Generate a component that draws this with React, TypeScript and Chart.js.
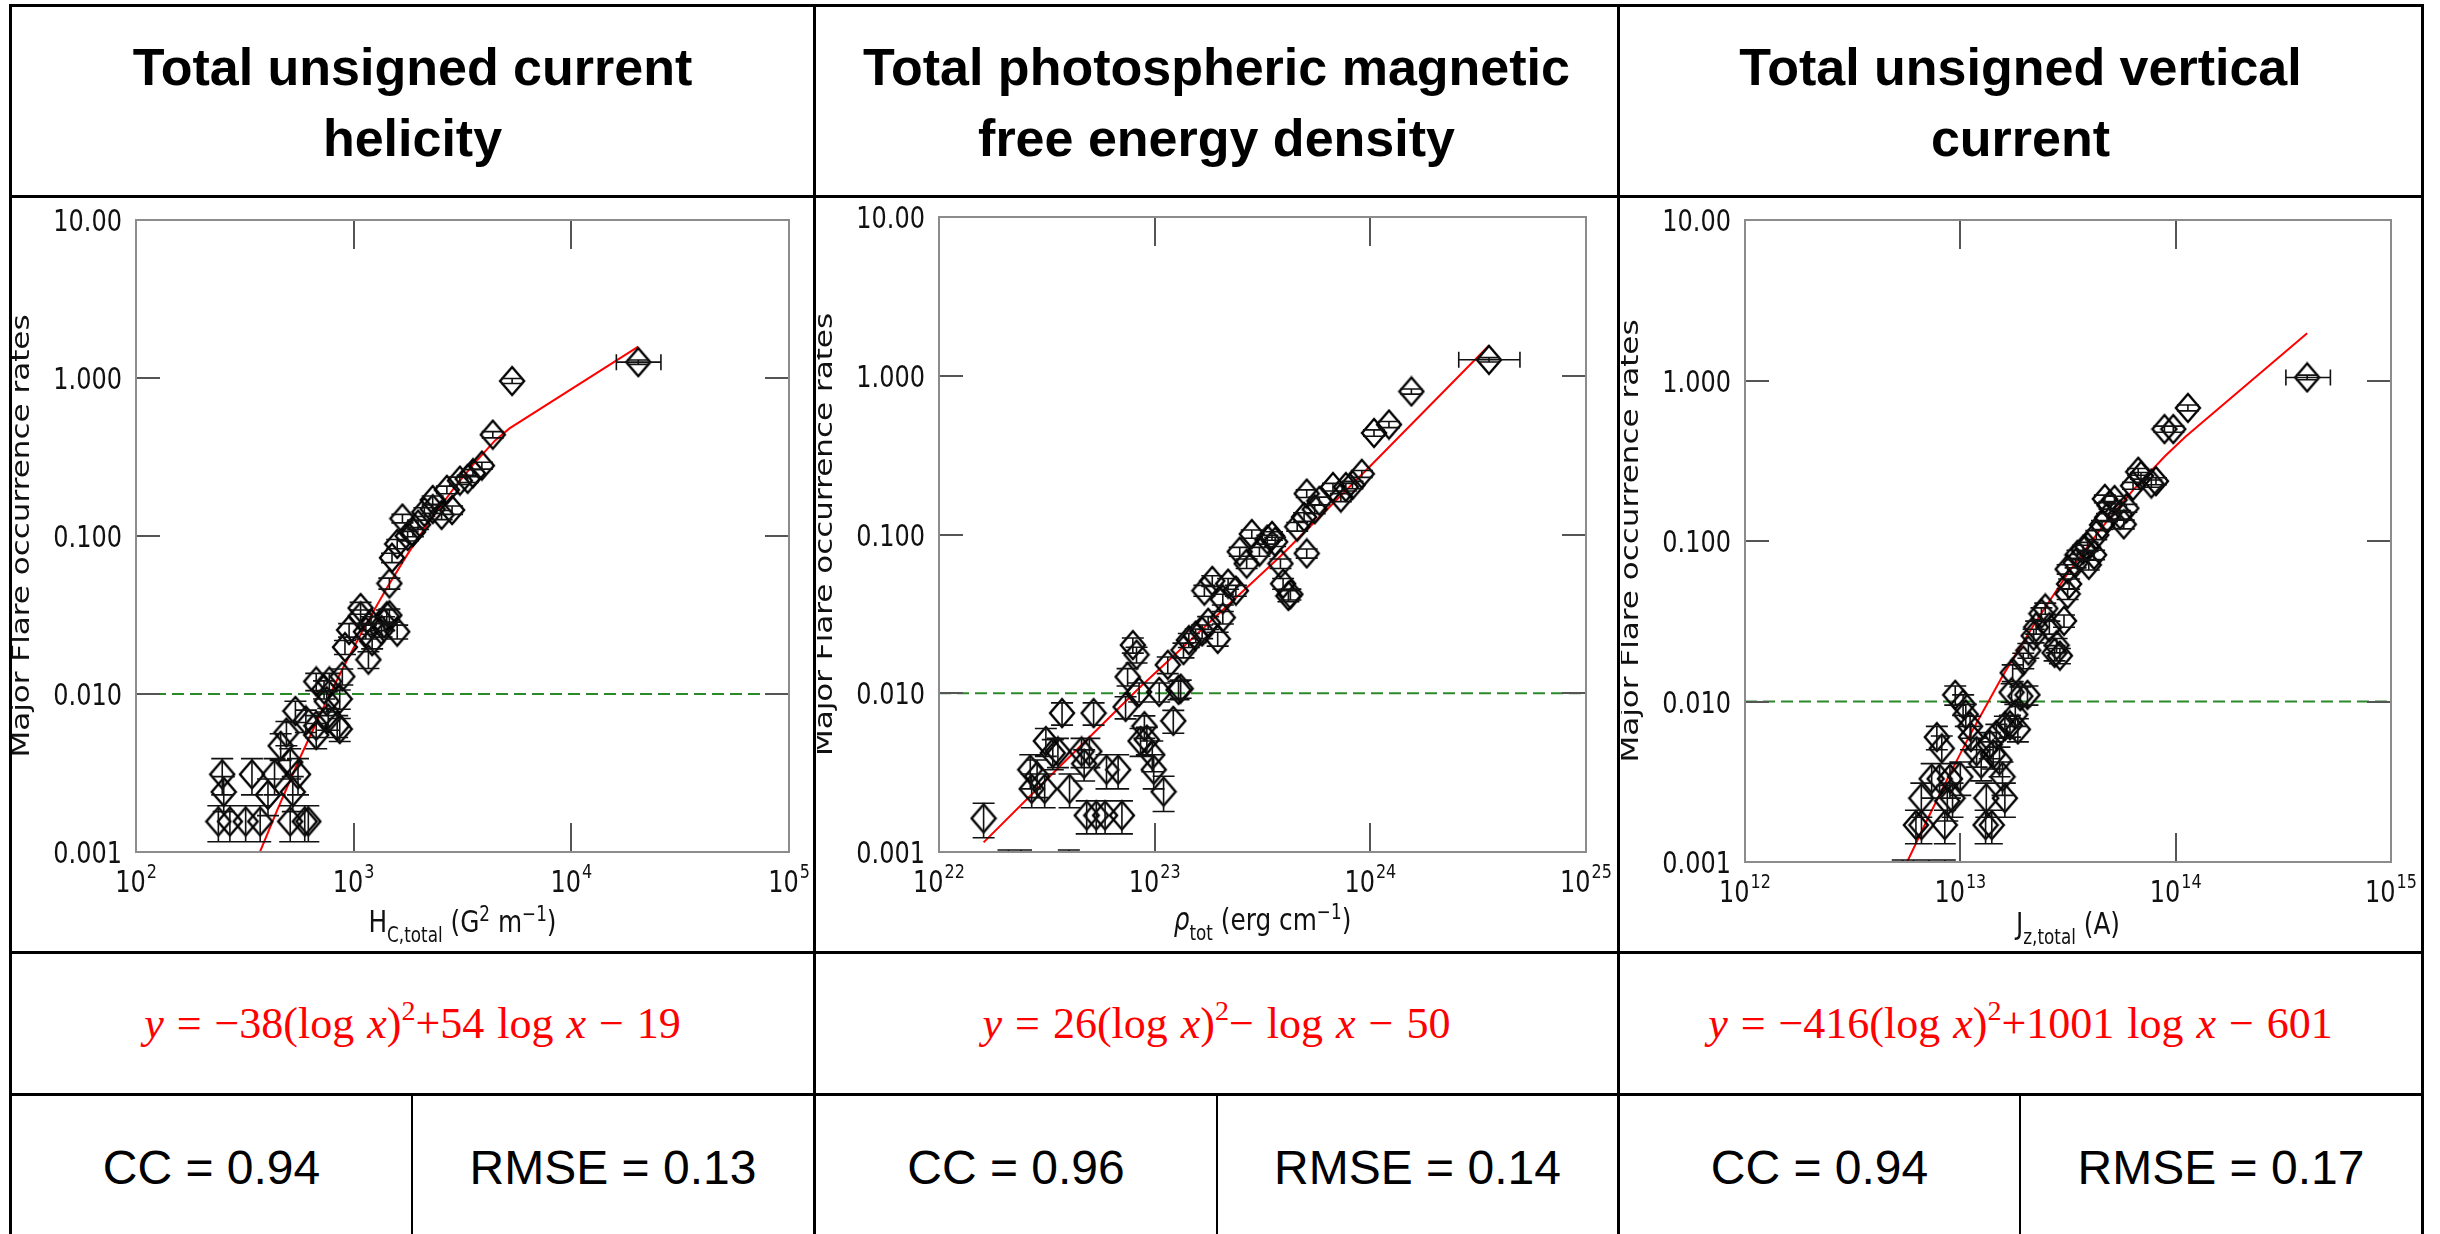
import React, { useEffect, useRef } from 'react';
import { Chart, registerables } from 'chart.js';

Chart.register(...registerables);

// [x, major flare rate, rate error]
type Sample = [number, number, number];

// Total unsigned current helicity, H_C,total (G^2 m^-1)
const helicitySamples: Sample[] = [
  [239, 0.00156, 0.0004], [270, 0.00156, 0.0004], [319, 0.00156, 0.0004], [372, 0.00156, 0.0004],
  [511, 0.00156, 0.0004], [596, 0.00156, 0.0004], [619, 0.00156, 0.0004],
  [249, 0.0031, 0.0008], [253, 0.0024, 0.0006], [341, 0.0031, 0.0008], [404, 0.0023, 0.0006],
  [433, 0.0031, 0.0008], [525, 0.0024, 0.0006], [555, 0.0031, 0.0008], [511, 0.0037, 0.0008],
  [462, 0.0047, 0.0009], [491, 0.0057, 0.001], [540, 0.0078, 0.0012], [603, 0.0068, 0.0011],
  [673, 0.0063, 0.001], [764, 0.007, 0.0011], [840, 0.0063, 0.001], [673, 0.0055, 0.001],
  [863, 0.006, 0.001], [673, 0.012, 0.0015], [731, 0.0107, 0.0014], [773, 0.012, 0.0015],
  [863, 0.0093, 0.0013], [887, 0.0129, 0.0015], [752, 0.009, 0.0013], [912, 0.0198, 0.002],
  [953, 0.0254, 0.0025], [1076, 0.031, 0.003], [1076, 0.035, 0.003], [1202, 0.028, 0.0028],
  [1138, 0.0248, 0.0025], [1216, 0.0216, 0.0023], [1169, 0.0165, 0.002], [1380, 0.028, 0.0028],
  [1419, 0.031, 0.003], [1343, 0.0254, 0.0025], [1585, 0.0248, 0.0025], [1459, 0.0315, 0.003],
  [1459, 0.0501, 0.004], [1500, 0.0728, 0.005], [1585, 0.089, 0.006], [1675, 0.129, 0.008],
  [1770, 0.1, 0.007], [1871, 0.106, 0.007], [1977, 0.118, 0.008], [2113, 0.142, 0.009],
  [2307, 0.148, 0.009], [2307, 0.169, 0.01], [2535, 0.136, 0.009], [2832, 0.146, 0.009],
  [2680, 0.196, 0.011], [3076, 0.224, 0.012], [3340, 0.23, 0.012], [3532, 0.25, 0.013],
  [3882, 0.279, 0.014], [4357, 0.438, 0.02], [5345, 0.957, 0.035], [20300, 1.26, 0.04],
];
const helicityOutlierXRange = [16100, 25800];
const helicityFitX = [371, 447, 562, 708, 891, 1122, 1413, 1778, 2239, 2818, 3548, 4467, 5200, 20300];
const helicityFitY = [0.001, 0.00186, 0.00385, 0.00764, 0.0145, 0.0265, 0.0463, 0.0776, 0.125, 0.192, 0.284, 0.403, 0.48, 1.58];

// Total photospheric magnetic free energy density, rho_tot (erg cm^-1)
const energySamples: Sample[] = [
  [1.61e22, 0.00163, 0.0004], [2.1e22, 0.0007, 0.00033], [2.4e22, 0.0007, 0.00033], [4.0e22, 0.0007, 0.00033],
  [2.65e22, 0.0033, 0.0008], [2.85e22, 0.003, 0.0008], [2.69e22, 0.0025, 0.0006], [3.09e22, 0.0025, 0.0006],
  [3.13e22, 0.005, 0.001], [3.37e22, 0.0042, 0.0009], [3.56e22, 0.0043, 0.0009], [3.72e22, 0.0075, 0.0012],
  [4.03e22, 0.0025, 0.0006], [4.58e22, 0.0043, 0.0009], [4.71e22, 0.0036, 0.0008], [4.98e22, 0.0043, 0.0009],
  [5.21e22, 0.0075, 0.0012], [4.84e22, 0.0017, 0.0004], [5.36e22, 0.0017, 0.0004], [5.89e22, 0.0017, 0.0004],
  [7.05e22, 0.0017, 0.0004], [5.98e22, 0.0033, 0.0008], [6.77e22, 0.0033, 0.0008], [7.33e22, 0.0082, 0.0013],
  [7.49e22, 0.0127, 0.0016], [7.92e22, 0.0201, 0.0022], [8.24e22, 0.0175, 0.002], [8.47e22, 0.0102, 0.0014],
  [8.96e22, 0.0062, 0.001], [8.6e22, 0.005, 0.001], [9.2e22, 0.0051, 0.001], [9.75e22, 0.0041, 0.0009],
  [9.9e22, 0.0033, 0.0008], [1.1e23, 0.0024, 0.0006], [1.05e23, 0.0102, 0.0014], [1.15e23, 0.0151, 0.0018],
  [1.22e23, 0.0067, 0.0011], [1.29e23, 0.0105, 0.0014], [1.32e23, 0.0107, 0.0014], [1.36e23, 0.0187, 0.002],
  [1.44e23, 0.0216, 0.0022], [1.55e23, 0.0231, 0.0023], [1.66e23, 0.0245, 0.0024], [1.77e23, 0.0278, 0.0026],
  [1.7e23, 0.0443, 0.0035], [1.85e23, 0.051, 0.004], [1.96e23, 0.022, 0.0022], [2.07e23, 0.03, 0.0027],
  [2.07e23, 0.039, 0.003], [2.19e23, 0.049, 0.0038], [2.38e23, 0.0443, 0.0035], [2.48e23, 0.078, 0.005],
  [2.82e23, 0.1007, 0.006], [2.67e23, 0.0656, 0.0045], [3.06e23, 0.078, 0.005], [3.33e23, 0.093, 0.006],
  [3.5e23, 0.098, 0.006], [3.62e23, 0.09, 0.006], [3.83e23, 0.0656, 0.0045], [3.94e23, 0.049, 0.0038],
  [4.17e23, 0.041, 0.0033], [4.26e23, 0.042, 0.0033], [5.07e23, 0.076, 0.005], [4.58e23, 0.112, 0.007],
  [4.93e23, 0.129, 0.008], [5.07e23, 0.181, 0.01], [5.52e23, 0.144, 0.009], [5.8e23, 0.163, 0.009],
  [6.71e23, 0.199, 0.011], [7.3e23, 0.171, 0.01], [7.7e23, 0.199, 0.011], [8.26e23, 0.205, 0.011],
  [9.13e23, 0.241, 0.012], [1.04e24, 0.436, 0.02], [1.22e24, 0.493, 0.022], [1.55e24, 0.796, 0.03],
  [3.55e24, 1.26, 0.04],
];
const energyOutlierXRange = [2.57e24, 4.94e24];
const energyFitX = [1.61e22, 3e22, 8.47e22, 2e23, 3.83e23, 1e24, 3.55e24];
const energyFitY = [0.00115, 0.00267, 0.0108, 0.032, 0.073, 0.27, 1.55];

// Total unsigned vertical current, J_z,total (A)
const currentSamples: Sample[] = [
  [5.4e12, 0.0007, 0.00033], [6.06e12, 0.0007, 0.00033], [7.16e12, 0.0007, 0.00033], [8.47e12, 0.0007, 0.00033],
  [6.22e12, 0.0017, 0.0004], [6.6e12, 0.0017, 0.0004], [8.47e12, 0.0017, 0.0004], [6.59e12, 0.0025, 0.0006],
  [8.7e12, 0.0024, 0.0006], [9.2e12, 0.0025, 0.0006], [7.36e12, 0.0033, 0.0008], [8.01e12, 0.0033, 0.0008],
  [8.95e12, 0.0033, 0.0008], [1.0e13, 0.0034, 0.0008], [7.78e12, 0.006, 0.001], [8.2e12, 0.0051, 0.001],
  [9.47e12, 0.011, 0.0015], [1.03e13, 0.0096, 0.0014], [1.06e13, 0.0083, 0.0013], [1.11e13, 0.007, 0.0011],
  [1.12e13, 0.006, 0.001], [1.19e13, 0.0049, 0.001], [1.25e13, 0.0041, 0.0009], [1.31e13, 0.0017, 0.0004],
  [1.4e13, 0.0017, 0.0004], [1.32e13, 0.0025, 0.0006], [1.61e13, 0.0025, 0.0006], [1.37e13, 0.0054, 0.001],
  [1.42e13, 0.0047, 0.0009], [1.52e13, 0.0043, 0.0009], [1.57e13, 0.0034, 0.0008], [1.47e13, 0.0062, 0.001],
  [1.61e13, 0.007, 0.0011], [1.7e13, 0.0071, 0.0011], [1.8e13, 0.0083, 0.0013], [1.85e13, 0.0067, 0.0011],
  [1.73e13, 0.0114, 0.0015], [1.9e13, 0.0108, 0.0015], [2.05e13, 0.011, 0.0015], [1.75e13, 0.0151, 0.0018],
  [1.96e13, 0.018, 0.002], [2.07e13, 0.0208, 0.0022], [2.19e13, 0.0257, 0.0025], [2.25e13, 0.029, 0.0027],
  [2.38e13, 0.0353, 0.003], [2.48e13, 0.038, 0.003], [2.59e13, 0.029, 0.0027], [2.74e13, 0.0201, 0.0022],
  [2.9e13, 0.0193, 0.0021], [2.8e13, 0.0224, 0.0023], [3.03e13, 0.0318, 0.0028], [3.15e13, 0.0468, 0.0036],
  [3.2e13, 0.054, 0.004], [3.15e13, 0.0667, 0.0045], [3.43e13, 0.073, 0.005], [3.5e13, 0.082, 0.0055],
  [3.72e13, 0.0883, 0.0058], [3.9e13, 0.092, 0.006], [3.95e13, 0.071, 0.005], [4.28e13, 0.109, 0.007],
  [4.18e13, 0.082, 0.0055], [4.55e13, 0.126, 0.008], [4.8e13, 0.14, 0.008], [4.93e13, 0.167, 0.009],
  [4.69e13, 0.183, 0.01], [5.2e13, 0.18, 0.01], [5.52e13, 0.146, 0.009], [5.74e13, 0.127, 0.008],
  [5.9e13, 0.16, 0.009], [6.34e13, 0.221, 0.011], [6.9e13, 0.255, 0.012], [6.7e13, 0.27, 0.013],
  [7.71e13, 0.228, 0.012], [8.1e13, 0.236, 0.012], [8.87e13, 0.498, 0.022], [9.75e13, 0.498, 0.022],
  [1.14e14, 0.675, 0.028], [4.08e14, 1.045, 0.035],
];
const currentOutlierXRange = [3.25e14, 5.23e14];
const currentFitX = [5.66e12, 7.08e12, 8.91e12, 1.12e13, 1.58e13, 2.24e13, 3.16e13, 4.47e13, 6.31e13, 8.91e13, 1.11e14, 4.08e14];
const currentFitY = [0.001, 0.00188, 0.0035, 0.00635, 0.0146, 0.0314, 0.063, 0.118, 0.206, 0.337, 0.446, 1.97];

// Axes
const helicityDecades = [2, 3, 4, 5];
const energyDecades = [22, 23, 24, 25];
const currentDecades = [12, 13, 14, 15];
const rateTicks = [0.001, 0.01, 0.1, 1, 10];
const rateTickLabels = ['0.001', '0.010', '0.100', '1.000', '10.00'];
const thresholdRate = 0.01;
const rateAxisTitle = 'Major Flare occurrence rates';

// Table text
const panelTitles = [
  ['Total unsigned current', 'helicity'],
  ['Total photospheric magnetic', 'free energy density'],
  ['Total unsigned vertical', 'current'],
];
const fitLead = ['−38', '26', '−416'];
const fitMid = ['+54 ', '− ', '+1001 '];
const fitTail = ['− 19', '− 50', '− 601'];
const ccValues = ['0.94', '0.96', '0.94'];
const rmseValues = ['0.13', '0.14', '0.17'];

type TitlePart = { t: string; k?: 'sub' | 'sup'; it?: boolean };

const helicityAxisTitle: TitlePart[] = [
  { t: 'H' }, { t: 'C,total', k: 'sub' }, { t: ' (G' }, { t: '2', k: 'sup' }, { t: ' m' }, { t: '−1', k: 'sup' }, { t: ')' },
];
const energyAxisTitle: TitlePart[] = [
  { t: 'ρ', it: true }, { t: 'tot', k: 'sub' }, { t: ' (erg cm' }, { t: '−1', k: 'sup' }, { t: ')' },
];
const currentAxisTitle: TitlePart[] = [{ t: 'J' }, { t: 'z,total', k: 'sub' }, { t: ' (A)' }];

interface PanelSpec {
  samples: Sample[];
  outlierXRange: number[];
  fitX: number[];
  fitY: number[];
  decades: number[];
  axisTitle: TitlePart[];
}

interface PanelBox {
  left: number; top: number; w: number; h: number;
  plotL: number; plotT: number; plotR: number; plotB: number;
  titleDrop: number;
}

const panels: PanelSpec[] = [
  { samples: helicitySamples, outlierXRange: helicityOutlierXRange, fitX: helicityFitX, fitY: helicityFitY, decades: helicityDecades, axisTitle: helicityAxisTitle },
  { samples: energySamples, outlierXRange: energyOutlierXRange, fitX: energyFitX, fitY: energyFitY, decades: energyDecades, axisTitle: energyAxisTitle },
  { samples: currentSamples, outlierXRange: currentOutlierXRange, fitX: currentFitX, fitY: currentFitY, decades: currentDecades, axisTitle: currentAxisTitle },
];

const boxes: PanelBox[] = [
  { left: 12, top: 199, w: 800, h: 751, plotL: 136, plotT: 220, plotR: 789, plotB: 852, titleDrop: 80 },
  { left: 817, top: 199, w: 800, h: 751, plotL: 939, plotT: 217, plotR: 1586, plotB: 852, titleDrop: 78 },
  { left: 1621, top: 199, w: 800, h: 751, plotL: 1745, plotT: 220, plotR: 2391, plotB: 862, titleDrop: 72 },
];

const PLOT_FONT = '"DejaVu Sans", sans-serif';
const SQUEEZE = 0.8;

function setFont(ctx: CanvasRenderingContext2D, size: number, italic = false) {
  ctx.font = `${italic ? 'italic ' : ''}${size}px ${PLOT_FONT}`;
}

function squeezedWidth(ctx: CanvasRenderingContext2D, text: string, size: number, italic = false) {
  ctx.save();
  setFont(ctx, size, italic);
  const w = ctx.measureText(text).width * SQUEEZE;
  ctx.restore();
  return w;
}

function squeezedText(ctx: CanvasRenderingContext2D, text: string, x: number, y: number, size: number, align: CanvasTextAlign, italic = false) {
  ctx.save();
  setFont(ctx, size, italic);
  ctx.translate(x, y);
  ctx.scale(SQUEEZE, 1);
  ctx.textAlign = align;
  ctx.textBaseline = 'alphabetic';
  ctx.fillText(text, 0, 0);
  ctx.restore();
}

// open diamond marker, a little taller than wide
function makeDiamond(): HTMLCanvasElement {
  const c = document.createElement('canvas');
  c.width = 28;
  c.height = 32;
  const g = c.getContext('2d')!;
  g.strokeStyle = '#000';
  g.lineWidth = 2.4;
  g.beginPath();
  g.moveTo(14, 2);
  g.lineTo(26, 16);
  g.lineTo(14, 30);
  g.lineTo(2, 16);
  g.closePath();
  g.stroke();
  return c;
}

function makePlugins(spec: PanelSpec, box: PanelBox) {
  const errorBars = {
    id: 'errorBars',
    afterDatasetsDraw(chart: any) {
      const { ctx, chartArea: a } = chart;
      const xs = chart.scales.x;
      const ys = chart.scales.y;
      ctx.save();
      ctx.beginPath();
      ctx.rect(a.left, a.top - 2, a.right - a.left, a.bottom - a.top + 2);
      ctx.clip();
      ctx.strokeStyle = '#111';
      ctx.lineWidth = 1.6;
      ctx.beginPath();
      for (const [x, y, e] of spec.samples) {
        const px = xs.getPixelForValue(x);
        const hi = ys.getPixelForValue(y + e);
        const lo = ys.getPixelForValue(Math.max(y - e, 1e-7));
        ctx.moveTo(px, hi); ctx.lineTo(px, lo);
        ctx.moveTo(px - 11, hi); ctx.lineTo(px + 11, hi);
        ctx.moveTo(px - 11, lo); ctx.lineTo(px + 11, lo);
      }
      const last = spec.samples[spec.samples.length - 1];
      const py = ys.getPixelForValue(last[1]);
      const x0 = xs.getPixelForValue(spec.outlierXRange[0]);
      const x1 = xs.getPixelForValue(spec.outlierXRange[1]);
      ctx.moveTo(x0, py); ctx.lineTo(x1, py);
      ctx.moveTo(x0, py - 8); ctx.lineTo(x0, py + 8);
      ctx.moveTo(x1, py - 8); ctx.lineTo(x1, py + 8);
      ctx.stroke();
      ctx.restore();
    },
  };

  const axes = {
    id: 'framedAxes',
    afterDraw(chart: any) {
      const { ctx, chartArea: a } = chart;
      const xs = chart.scales.x;
      const ys = chart.scales.y;
      ctx.save();
      // inward major ticks on all four sides
      ctx.strokeStyle = '#555';
      ctx.lineWidth = 2;
      ctx.beginPath();
      for (const d of spec.decades) {
        const px = Math.round(xs.getPixelForValue(Math.pow(10, d)));
        if (px <= a.left + 2 || px >= a.right - 2) continue;
        ctx.moveTo(px, a.bottom); ctx.lineTo(px, a.bottom - 29);
        ctx.moveTo(px, a.top); ctx.lineTo(px, a.top + 29);
      }
      for (const v of rateTicks) {
        const py = Math.round(ys.getPixelForValue(v));
        if (py <= a.top + 2 || py >= a.bottom - 2) continue;
        ctx.moveTo(a.left, py); ctx.lineTo(a.left + 24, py);
        ctx.moveTo(a.right, py); ctx.lineTo(a.right - 24, py);
      }
      ctx.stroke();
      // frame
      ctx.strokeStyle = '#8c8c8c';
      ctx.lineWidth = 2;
      ctx.strokeRect(a.left, a.top, a.right - a.left, a.bottom - a.top);

      ctx.fillStyle = '#111';
      // rate tick labels
      rateTicks.forEach((v, i) => {
        const py = ys.getPixelForValue(v);
        squeezedText(ctx, rateTickLabels[i], a.left - 14, py + 11, 30, 'right');
      });
      // decade tick labels, 10 with exponent
      for (const d of spec.decades) {
        const px = xs.getPixelForValue(Math.pow(10, d));
        const exp = String(d);
        const wBase = squeezedWidth(ctx, '10', 30);
        const wExp = squeezedWidth(ctx, exp, 20);
        const start = px - (wBase + wExp + 1) / 2;
        squeezedText(ctx, '10', start, a.bottom + 40, 30, 'left');
        squeezedText(ctx, exp, start + wBase + 1, a.bottom + 26, 20, 'left');
      }
      // x axis title with sub/superscripts
      const sizeOf = (p: TitlePart) => (p.k ? 21 : 31);
      const widths = spec.axisTitle.map((p) => squeezedWidth(ctx, p.t, sizeOf(p), p.it));
      const total = widths.reduce((s, w) => s + w, 0);
      let cx = (a.left + a.right) / 2 - total / 2;
      const base = a.bottom + box.titleDrop;
      spec.axisTitle.forEach((p, i) => {
        const dy = p.k === 'sub' ? 10 : p.k === 'sup' ? -11 : 0;
        squeezedText(ctx, p.t, cx, base + dy, sizeOf(p), 'left', p.it);
        cx += widths[i];
      });
      // rate axis title, vertical
      ctx.save();
      ctx.translate(a.left - 113, (a.top + a.bottom) / 2);
      ctx.rotate(-Math.PI / 2);
      ctx.scale(1, SQUEEZE);
      setFont(ctx, 31);
      ctx.textAlign = 'center';
      ctx.textBaseline = 'middle';
      ctx.fillText(rateAxisTitle, 0, 0);
      ctx.restore();
      ctx.restore();
    },
  };
  return [errorBars, axes];
}

function FlarePanel({ spec, box }: { spec: PanelSpec; box: PanelBox }) {
  const ref = useRef<HTMLCanvasElement>(null);
  useEffect(() => {
    const canvas = ref.current;
    if (!canvas) return;
    const diamond = makeDiamond();
    const xMin = Math.pow(10, spec.decades[0]);
    const xMax = Math.pow(10, spec.decades[spec.decades.length - 1]);
    const chart = new Chart(canvas, {
      type: 'scatter',
      data: {
        datasets: [
          {
            data: spec.samples.map(([x, y]) => ({ x, y })),
            pointStyle: diamond as any,
            pointRadius: 12,
            pointBorderWidth: 0,
            showLine: false,
          },
          {
            data: spec.fitX.map((x, i) => ({ x, y: spec.fitY[i] })),
            showLine: true,
            borderColor: '#ff0000',
            borderWidth: 2,
            pointRadius: 0,
            tension: 0,
          },
          {
            data: [{ x: xMin, y: thresholdRate }, { x: xMax, y: thresholdRate }],
            showLine: true,
            borderColor: '#2a8a2a',
            borderWidth: 2,
            borderDash: [12, 6],
            pointRadius: 0,
          },
        ],
      },
      options: {
        animation: false,
        responsive: false,
        events: [],
        layout: {
          padding: {
            left: box.plotL - box.left,
            top: box.plotT - box.top,
            right: box.left + box.w - box.plotR,
            bottom: box.top + box.h - box.plotB,
          },
        },
        plugins: { legend: { display: false }, tooltip: { enabled: false } },
        scales: {
          x: { type: 'logarithmic', min: xMin, max: xMax, display: false },
          y: { type: 'logarithmic', min: rateTicks[0], max: rateTicks[rateTicks.length - 1], display: false },
        },
      },
      plugins: makePlugins(spec, box),
    } as any);
    return () => chart.destroy();
  }, [spec, box]);
  return (
    <canvas
      ref={ref}
      width={box.w}
      height={box.h}
      style={{ position: 'absolute', left: box.left, top: box.top, width: box.w, height: box.h }}
    />
  );
}

// table rules
const colLines = [9, 813, 1617, 2421];
const subColLines = [411, 1216, 2019];
const rowLines = [4, 195, 951, 1093];

function Rule({ x, y, w, h }: { x: number; y: number; w: number; h: number }) {
  return <div style={{ position: 'absolute', left: x, top: y, width: w, height: h, background: '#000', zIndex: 2 }} />;
}

export default function App() {
  const cell = (x0: number, x1: number, y0: number, y1: number): React.CSSProperties => ({
    position: 'absolute', left: x0, top: y0, width: x1 - x0, height: y1 - y0,
    display: 'flex', alignItems: 'center', justifyContent: 'center', textAlign: 'center',
  });
  return (
    <div style={{ position: 'absolute', left: 0, top: 0, width: 2440, height: 1234, background: '#fff', overflow: 'hidden' }}>
      {rowLines.map((y, i) => <Rule key={'r' + i} x={colLines[0]} y={y} w={colLines[3] + 3 - colLines[0]} h={3} />)}
      {colLines.map((x, i) => <Rule key={'c' + i} x={x} y={rowLines[0]} w={3} h={1234 - rowLines[0]} />)}
      {subColLines.map((x, i) => <Rule key={'s' + i} x={x} y={rowLines[3]} w={2} h={1234 - rowLines[3]} />)}

      {panelTitles.map((lines, i) => (
        <div key={'t' + i} style={{ ...cell(colLines[i] + 3, colLines[i + 1], rowLines[0] + 3, rowLines[1]), paddingTop: 4, boxSizing: 'border-box' }}>
          <div style={{ fontFamily: '"Liberation Sans", Arial, sans-serif', fontWeight: 700, fontSize: 52, lineHeight: '71px', color: '#000' }}>
            {lines[0]}<br />{lines[1]}
          </div>
        </div>
      ))}

      {panels.map((p, i) => <FlarePanel key={'p' + i} spec={p} box={boxes[i]} />)}

      {fitLead.map((lead, i) => (
        <div key={'e' + i} style={cell(colLines[i] + 3, colLines[i + 1], rowLines[2] + 3, rowLines[3])}>
          <span style={{ fontFamily: '"Liberation Serif", serif', fontSize: 44, color: '#ff0000', whiteSpace: 'pre', wordSpacing: 2 }}>
            <i>y</i> = {lead}(log <i>x</i>)<sup style={{ fontSize: 28, lineHeight: 0, position: 'relative', top: -2 }}>2</sup>{fitMid[i]}log <i>x</i> {fitTail[i]}
          </span>
        </div>
      ))}

      {ccValues.map((cc, i) => {
        const cellsX = [colLines[i] + 3, subColLines[i], subColLines[i] + 2, colLines[i + 1]];
        const txt: React.CSSProperties = { fontFamily: '"Liberation Sans", Arial, sans-serif', fontSize: 48, color: '#000' };
        return (
          <React.Fragment key={'m' + i}>
            <div style={cell(cellsX[0], cellsX[1], rowLines[3] + 3, 1238)}><span style={txt}>CC = {cc}</span></div>
            <div style={cell(cellsX[2], cellsX[3], rowLines[3] + 3, 1238)}><span style={txt}>RMSE = {rmseValues[i]}</span></div>
          </React.Fragment>
        );
      })}
    </div>
  );
}
